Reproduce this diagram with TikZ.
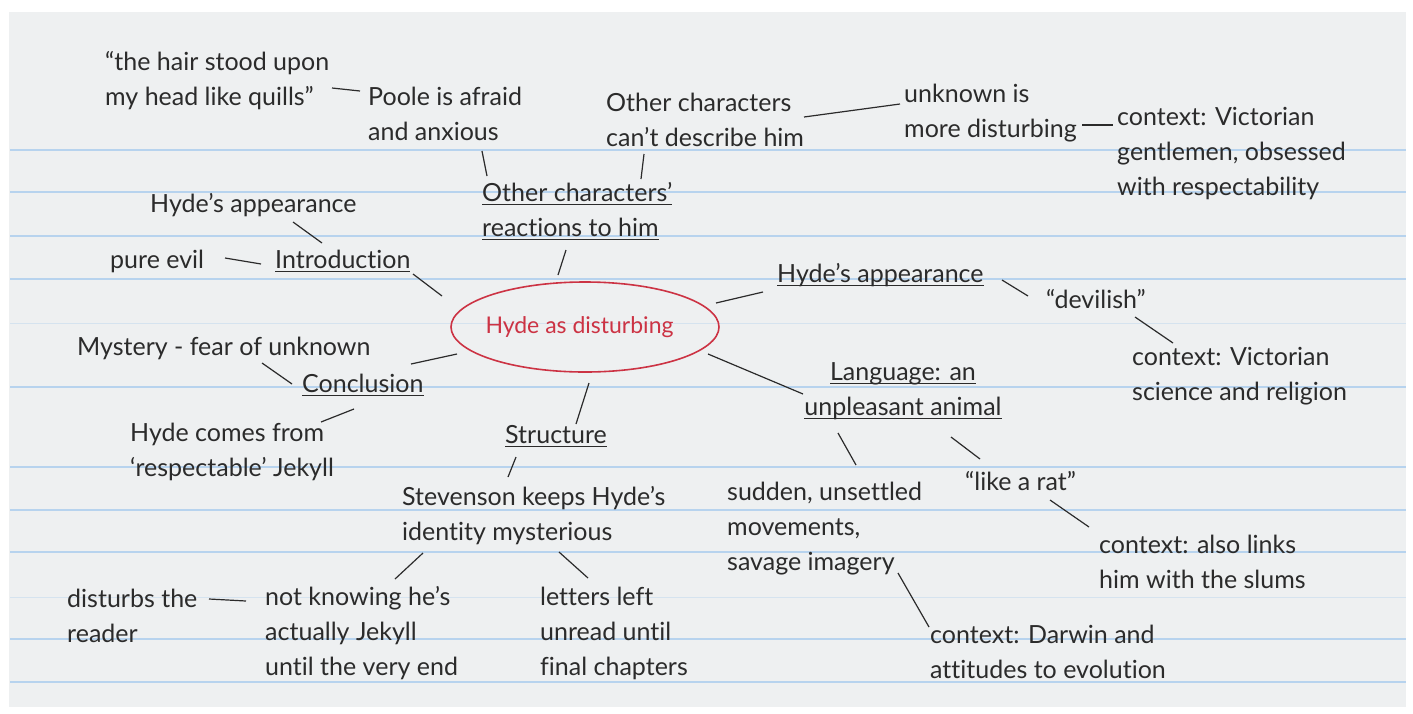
\documentclass[tikz,border=0pt]{standalone}
\usepackage{fontspec}
\setmainfont[Ligatures=NoCommon]{Lato}
\usetikzlibrary{shapes.geometric}
\definecolor{paper}{HTML}{EEF0F1}
\definecolor{rulecol}{HTML}{B7D3EE}
\definecolor{rulefaint}{HTML}{D5E3EF}
\definecolor{ink}{HTML}{2B2B2B}
\definecolor{hydered}{HTML}{CC3344}
\newcommand\fs{\fontsize{25}{35}\selectfont}
\newcommand\ml[1]{\begin{tabular}[t]{@{}l@{}}#1\end{tabular}}
\newcommand\mc[1]{\begin{tabular}[t]{@{}c@{}}#1\end{tabular}}
\newcommand\myul[1]{\setbox0\hbox{#1}\rlap{\rule[-4pt]{\wd0}{1.3pt}}\box0}
\tikzset{
  txt/.style={anchor=base west, inner sep=0pt, font=\fs, text=ink},
  link/.style={draw=ink, line width=1.2pt},
  ruled/.style={draw=rulecol, line width=1.8pt},
  ruledfaint/.style={draw=rulefaint, line width=1pt},
  hub/.style={ellipse, draw=hydered, line width=1.6pt, text=hydered, minimum width=268pt, minimum height=90pt, inner sep=0pt, font=\fontsize{23}{27}\selectfont}
}
\begin{document}
\begin{tikzpicture}[x=1pt,y=-1pt]
\useasboundingbox (0,0) rectangle (1413,713);
\fill[white] (0,0) rectangle (1413,713);
\fill[paper] (9,12) rectangle (1406,707);
\foreach \y in {150,192,236,279,387,467,510,552,639,682}
  \draw[ruled] (10,\y) -- (1406,\y);
\foreach \y in {323,597}
  \draw[ruledfaint] (10,\y) -- (1406,\y);

% nodes
\node[txt] (quote) at (105,70) {\ml{“the hair stood upon\\my head like quills”}};
\node[txt] (poole) at (368,105) {\ml{Poole is afraid\\and anxious}};
\node[txt] (desc) at (606,111) {\ml{Other characters\\can’t describe him}};
\node[txt] (unknown) at (904,102) {\ml{unknown is\\more disturbing}};
\node[txt] (ctxvict) at (1117,125) {\ml{context: Victorian\\gentlemen, obsessed\\with respectability}};
\node[txt] (reactions) at (482,201) {\ml{\myul{Other characters’}\\\myul{reactions to him}}};
\node[txt] (appL) at (150,212) {Hyde’s appearance};
\node[txt] (intro) at (275,268) {\myul{Introduction}};
\node[txt] (pure) at (110,268) {pure evil};
\node[hub] (hyde) at (585,327) {\hspace*{-11pt}Hyde as disturbing};
\node[txt] (appR) at (777,282) {\myul{Hyde’s appearance}};
\node[txt] (devilish) at (1046,308) {“devilish”};
\node[txt] (ctxsci) at (1132,365) {\ml{context: Victorian\\science and religion}};
\node[txt, anchor=base] (lang) at (903,380) {\mc{\myul{Language: an}\\\myul{unpleasant animal}}};
\node[txt] (mystery) at (77,355) {Mystery - fear of unknown};
\node[txt] (concl) at (302,392) {\myul{Conclusion}};
\node[txt] (comes) at (130,441) {\ml{Hyde comes from\\‘respectable’ Jekyll}};
\node[txt] (structure) at (505,443) {\myul{Structure}};
\node[txt] (stevenson) at (402,505) {\ml{Stevenson keeps Hyde’s\\identity mysterious}};
\node[txt] (notknow) at (265,605) {\ml{not knowing he’s\\actually Jekyll\\until the very end}};
\node[txt] (disturbs) at (67,607) {\ml{disturbs the\\reader}};
\node[txt] (letters) at (540,605) {\ml{letters left\\unread until\\final chapters}};
\node[txt] (sudden) at (727,500) {\ml{sudden, unsettled\\movements,\\savage imagery}};
\node[txt] (darwin) at (930,643) {\ml{context: Darwin and\\attitudes to evolution}};
\node[txt] (rat) at (965,490) {“like a rat”};
\node[txt] (slums) at (1099,553) {\ml{context: also links\\him with the slums}};

% connector end points
\coordinate (a1) at (332,88);   \coordinate (b1) at (360,91);
\coordinate (a2) at (482,151);  \coordinate (b2) at (487,176);
\coordinate (a3) at (644,154);  \coordinate (b3) at (641,179);
\coordinate (a4) at (804,117);  \coordinate (b4) at (900,104);
\coordinate (a5) at (1082,125); \coordinate (b5) at (1113,125);
\coordinate (a6) at (293,222);  \coordinate (b6) at (322,243);
\coordinate (a7) at (225,258);  \coordinate (b7) at (261,264);
\coordinate (a8) at (413,274);  \coordinate (b8) at (442,296);
\coordinate (a9) at (558,275);  \coordinate (b9) at (566,250);
\coordinate (a10) at (716,303); \coordinate (b10) at (763,292);
\coordinate (a11) at (1002,280);\coordinate (b11) at (1028,296);
\coordinate (a12) at (1135,317);\coordinate (b12) at (1173,343);
\coordinate (a13) at (708,354); \coordinate (b13) at (803,394);
\coordinate (a14) at (262,363); \coordinate (b14) at (292,384);
\coordinate (a15) at (411,364); \coordinate (b15) at (457,354);
\coordinate (a16) at (354,409); \coordinate (b16) at (321,422);
\coordinate (a17) at (589,383); \coordinate (b17) at (576,424);
\coordinate (a18) at (516,457); \coordinate (b18) at (508,477);
\coordinate (a19) at (423,553); \coordinate (b19) at (395,579);
\coordinate (a20) at (209,599); \coordinate (b20) at (246,601);
\coordinate (a21) at (559,552); \coordinate (b21) at (588,578);
\coordinate (a22) at (838,433); \coordinate (b22) at (856,465);
\coordinate (a23) at (898,573); \coordinate (b23) at (929,627);
\coordinate (a24) at (951,437); \coordinate (b24) at (980,459);
\coordinate (a25) at (1050,500);\coordinate (b25) at (1089,527);

\foreach \i in {1,...,25}
  \draw[link] (a\i) -- (b\i);
\end{tikzpicture}
\end{document}
